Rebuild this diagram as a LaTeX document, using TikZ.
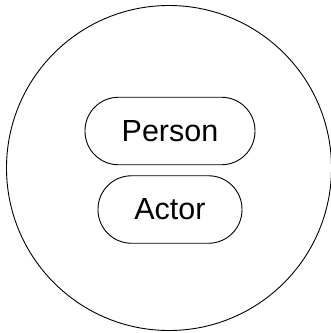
\documentclass[tikz,border=0pt]{standalone}
\usepackage{fontspec}
\setmainfont{Liberation Sans}
\begin{document}
\begin{tikzpicture}[x=1pt,y=1pt,
  pill/.style={draw=black, line width=0.9pt, rounded corners=33.5pt, minimum height=67.5pt, inner sep=0pt, font=\fontsize{30.5}{30.5}\selectfont},
  outer/.style={draw=black, line width=0.9pt, circle, minimum size=325pt, inner sep=0pt}]
\useasboundingbox (0,0) rectangle (331,-333);
\node[outer] (c) at (169,-168) {};
\node[pill, minimum width=170pt] (person) at (170,-131) {Person};
\node[pill, minimum width=144pt] (actor) at (170,-209.5) {Actor};
\end{tikzpicture}
\end{document}
